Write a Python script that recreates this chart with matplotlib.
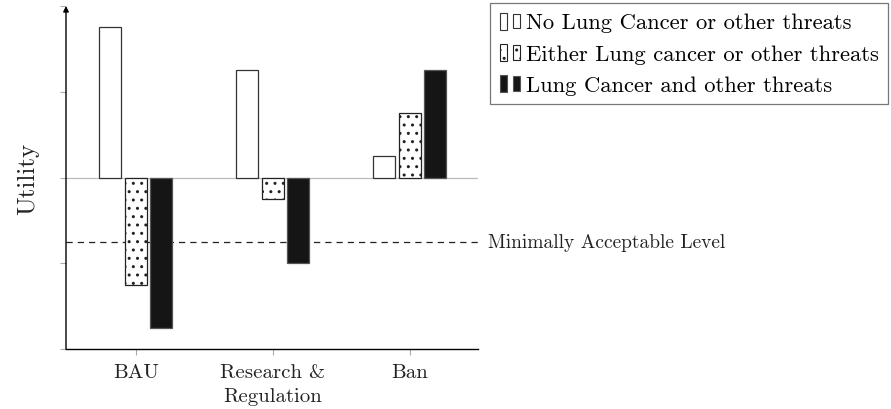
import matplotlib
matplotlib.use('Agg')
import matplotlib.pyplot as plt
import numpy as np
from matplotlib.patches import Rectangle
from matplotlib.legend_handler import HandlerBase

plt.rcParams['font.family'] = 'cmr10'
plt.rcParams['mathtext.fontset'] = 'cm'
plt.rcParams['axes.formatter.use_mathtext'] = True
plt.rcParams['hatch.linewidth'] = 1.0

# données
strategies = ['BAU', 'Research &\nRegulation', 'Ban']
no_threat = [3.5, 2.5, 0.5]
either_threat = [-2.5, -0.5, 1.5]
both_threats = [-3.5, -2.0, 2.5]
series_names = ['No Lung Cancer or other threats',
                'Either Lung cancer or other threats',
                'Lung Cancer and other threats']
acceptable_level = -1.5
acceptable_label = 'Minimally Acceptable Level'


class TwoBarHandler(HandlerBase):
    # petite image de légende façon pgfplots : deux barres
    def create_artists(self, legend, orig_handle, xdescent, ydescent,
                       width, height, fontsize, trans):
        w = width * 0.3
        r1 = Rectangle((-xdescent, -ydescent - 0.1 * height), w, height * 1.1,
                       facecolor=orig_handle.get_facecolor(),
                       edgecolor=orig_handle.get_edgecolor(),
                       hatch=orig_handle.get_hatch(), lw=0.8, transform=trans)
        r2 = Rectangle((-xdescent + width * 0.55, -ydescent), w, height * 0.9,
                       facecolor=orig_handle.get_facecolor(),
                       edgecolor=orig_handle.get_edgecolor(),
                       hatch=orig_handle.get_hatch(), lw=0.8, transform=trans)
        return [r1, r2]


fig = plt.figure(figsize=(8.91, 4.10), dpi=100)
ax = fig.add_axes([66 / 891, 1 - 350 / 410, (478 - 66) / 891, (350 - 7) / 410])

x = np.arange(len(strategies))
w = 0.16
off = 0.186

ax.axhline(0, color='#bbbbbb', lw=0.9, zorder=1)
b1 = ax.bar(x - off, no_threat, w, color='white', edgecolor='#333333', lw=0.9, zorder=3)
b2 = ax.bar(x, either_threat, w, color='white', edgecolor='#222222', lw=0.9,
            hatch='..', zorder=3)
b3 = ax.bar(x + off, both_threats, w, color='#151515', edgecolor='#555555', lw=0.9, zorder=3)

ax.axhline(acceptable_level, color='#222222', lw=0.9, ls=(0, (5, 4)), zorder=2)
ax.text(1.024, acceptable_level, acceptable_label, transform=ax.get_yaxis_transform(),
        va='center', ha='left', fontsize=14, color='#222222')

ax.set_xlim(-0.51, 2.5)
ax.set_ylim(-4, 4)
ax.set_yticks([-4, -2, 0, 2, 4])
ax.set_yticklabels([])
ax.set_xticks(x)
ax.set_xticklabels(strategies, fontsize=15, color='#222222', linespacing=1.45)
ax.tick_params(axis='both', direction='out', length=4, color='#aaaaaa', width=0.8)
ax.tick_params(axis='x', pad=6)
ax.set_ylabel('Utility', fontsize=18, labelpad=12, color='#222222')

for s in ['top', 'right', 'left']:
    ax.spines[s].set_visible(False)
ax.spines['bottom'].set_linewidth(1.0)
ax.annotate('', xy=(0, 1.0), xytext=(0, 0), xycoords='axes fraction',
            arrowprops=dict(arrowstyle='-|>', lw=1.0, color='black',
                            mutation_scale=8, shrinkA=0, shrinkB=0))

leg = fig.legend([b1[0], b2[0], b3[0]], series_names,
                 handler_map={b1[0]: TwoBarHandler(), b2[0]: TwoBarHandler(),
                              b3[0]: TwoBarHandler()},
                 loc='upper left', bbox_to_anchor=(490 / 891, 1 - 4 / 410),
                 fontsize=16.3, frameon=True, fancybox=False, borderaxespad=0,
                 handlelength=1.05, handletextpad=0.12, labelspacing=0.5,
                 borderpad=0.42)
leg.get_frame().set_edgecolor('#555555')
leg.get_frame().set_linewidth(0.9)

fig.savefig('out.png', dpi=100)
